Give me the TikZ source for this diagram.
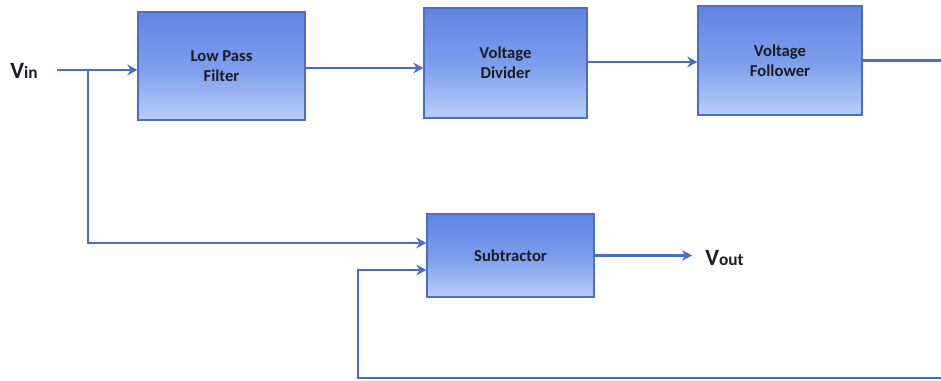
\documentclass[tikz,border=0pt]{standalone}
\usepackage{fontspec}
\setmainfont{Carlito}
\usetikzlibrary{arrows.meta,calc}
\definecolor{boxtop}{RGB}{98,132,226}
\definecolor{boxmid}{RGB}{124,156,236}
\definecolor{boxbot}{RGB}{184,206,248}
\definecolor{boxedge}{RGB}{78,108,198}
\definecolor{wire}{RGB}{70,110,200}
\definecolor{ink}{RGB}{28,28,38}
\tikzset{
  blk/.style={draw=boxedge, line width=1pt, top color=boxtop, bottom color=boxbot,
    middle color=boxmid, font=\bfseries\fontsize{12.5}{15}\selectfont, text=ink,
    align=center, inner sep=0pt},
  wireline/.style={draw=wire, line width=2.1pt},
  arr/.style={wireline, -{Stealth[length=7.5pt,width=8pt,inset=2.5pt]}},
  sig/.style={text=ink, font=\bfseries, inner sep=0pt}
}
\begin{document}
\begin{tikzpicture}[x=0.75pt,y=-0.75pt]
\useasboundingbox (0,0) rectangle (941,381);
% blocks
\node[blk, minimum width=125.25pt, minimum height=81pt] (lpf) at (221.5,66) {Low Pass\\Filter};
\node[blk, minimum width=122.25pt, minimum height=82.5pt] (vd) at (505.5,63) {Voltage\\Divider};
\node[blk, minimum width=123pt, minimum height=81.75pt] (vf) at (780,60.5) {Voltage\\Follower};
\node[blk, minimum width=125.25pt, minimum height=62.25pt] (sub) at (510.5,255.5) {Subtractor};
% signals
\node[sig, anchor=base west] (vin) at (10,79) {\fontsize{17.5}{17.5}\selectfont V\fontsize{13}{13}\selectfont in};
\node[sig, anchor=base west] (vout) at (705,265) {\fontsize{17.5}{17.5}\selectfont V\fontsize{13}{13}\selectfont out};
% helper coordinates
\coordinate (vinstart) at (57,70);
\coordinate (branch) at (88,70);
\coordinate (subin1) at ($(sub.west)+(0,-12.5)$);
\coordinate (subin2) at ($(sub.west)+(0,14.5)$);
\coordinate (voutend) at (692,255.5);
\coordinate (fbright) at (948,378);
\coordinate (fbleft) at (358,378);
% connectors
\draw[arr] (vinstart) -- (vinstart -| lpf.west);
\draw[arr] (branch) |- (subin1);
\draw[arr] (lpf.east |- 0,68) -- (vd.west |- 0,68);
\draw[arr] (vd.east |- 0,62) -- (vf.west |- 0,62);
\draw[arr] (vf.east) -| (fbright) -- (fbleft) |- (subin2);
\draw[arr] (sub.east) -- (voutend);
\end{tikzpicture}
\end{document}
